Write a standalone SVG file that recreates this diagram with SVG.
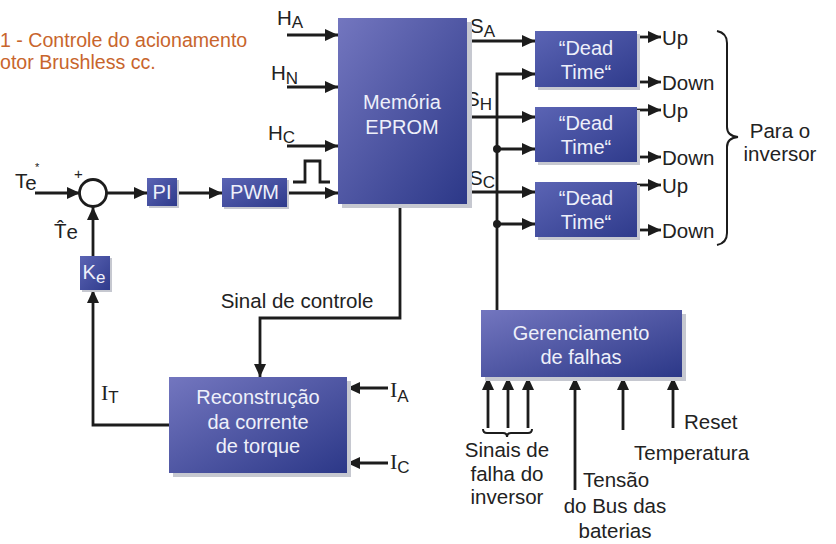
<svg xmlns="http://www.w3.org/2000/svg" width="836" height="544" viewBox="0 0 836 544">
<defs>
  <linearGradient id="bx" x1="0" y1="0" x2="1" y2="1">
    <stop offset="0" stop-color="#7376bf"/>
    <stop offset="1" stop-color="#2c3888"/>
  </linearGradient>
  <linearGradient id="bx2" x1="0" y1="0" x2="1" y2="1">
    <stop offset="0" stop-color="#5b64b4"/>
    <stop offset="1" stop-color="#2f3b8c"/>
  </linearGradient>
  <marker id="ah" markerWidth="14" markerHeight="12" refX="13" refY="6" orient="auto" markerUnits="userSpaceOnUse">
    <path d="M0,0 L13,6 L0,12 z" fill="#1c1c1c"/>
  </marker>
</defs>
<style>
  .box{fill:url(#bx)}
  .box2{fill:url(#bx2)}
  .sh{fill:#c6c8d0}
  .bt{font-family:"Liberation Sans",Arial,sans-serif;font-size:20px;fill:#eef0fa;text-anchor:middle}
  .lb{font-family:"Liberation Sans",Arial,sans-serif;font-size:20.5px;fill:#222}
  .sr{font-family:"Liberation Serif","Times New Roman",serif;font-size:22px;fill:#222}
  .sub{font-family:"Liberation Sans",Arial,sans-serif;font-size:17px}
  .c{fill:none;stroke:#1c1c1c;stroke-width:2.8}
  .a{marker-end:url(#ah)}
  .ttl{font-family:"Liberation Sans",Arial,sans-serif;font-size:19.6px;fill:#c8652c}
</style>
<rect width="836" height="544" fill="#ffffff"/>

<g id="title">
  <text class="ttl" x="0" y="47">1 - Controle do acionamento</text>
  <text class="ttl" x="0" y="69">otor Brushless cc.</text>
</g>

<g id="connectors">
  <path class="c a" d="M35,193 H80"/>
  <path class="c a" d="M107,193 H147"/>
  <path class="c a" d="M177,193 H222"/>
  <path class="c a" d="M287,193 H338"/>
  <path class="c a" d="M287,35 H338"/>
  <path class="c a" d="M287,87 H338"/>
  <path class="c a" d="M287,146 H338"/>
  <path class="c" d="M293,182 H305 V161 H320 V182 H330"/>
  <path class="c a" d="M93,256 V207"/>
  <path class="c a" d="M169,425 H93 V290"/>
  <path class="c a" d="M400,204 V318 H260 V377"/>
  <path class="c a" d="M388,388 H347"/>
  <path class="c a" d="M388,463 H347"/>
  <path class="c a" d="M467,41 H535"/>
  <path class="c a" d="M467,117 H535"/>
  <path class="c a" d="M467,192 H535"/>
  <path class="c a" d="M497,310 V74 H535"/>
  <path class="c a" d="M497,149 H535"/>
  <path class="c a" d="M497,224 H535"/>
  <circle cx="497" cy="149" r="4" fill="#1c1c1c"/>
  <circle cx="497" cy="224" r="4" fill="#1c1c1c"/>
  <path class="c a" d="M637,37 H661"/>
  <path class="c a" d="M637,82 H661"/>
  <path class="c a" d="M637,110 H661"/>
  <path class="c a" d="M637,157 H661"/>
  <path class="c a" d="M637,185 H661"/>
  <path class="c a" d="M637,230 H661"/>
  <path class="c a" d="M488,428 V377"/>
  <path class="c a" d="M508,428 V377"/>
  <path class="c a" d="M528,428 V377"/>
  <path class="c a" d="M575,490 V377"/>
  <path class="c a" d="M623,430 V377"/>
  <path class="c a" d="M673,428 V377"/>
  <path fill="none" stroke="#1c1c1c" stroke-width="2" d="M717,31 Q727,33 727,43 L727,127 Q727,136 738,137 Q727,138 727,147 L727,233 Q727,243 717,245"/>
  <path fill="none" stroke="#1c1c1c" stroke-width="2" d="M483,429 Q483,433 487,433 L503,433 Q507,433 507,437 Q507,433 511,433 L528,433 Q532,433 532,429"/>
</g>

<g id="labels">
  <text class="lb" x="15" y="188">T<tspan dy="2">e</tspan></text>
  <text class="lb" x="35" y="171" style="font-size:11px">*</text>
  <text class="lb" x="74" y="179" style="font-size:15px">+</text>
  <text class="lb" x="54" y="238">T̂<tspan dy="1">e</tspan></text>
  <text class="lb" x="277" y="25">H<tspan class="sub" dy="3">A</tspan></text>
  <text class="lb" x="271" y="80">H<tspan class="sub" dy="4">N</tspan></text>
  <text class="lb" x="268" y="140">H<tspan class="sub" dy="3">C</tspan></text>
  <text class="lb" x="470" y="33">S<tspan class="sub" dy="4">A</tspan></text>
  <text class="lb" x="466" y="106">S<tspan class="sub" dy="4">H</tspan></text>
  <text class="lb" x="469" y="185">S<tspan class="sub" dy="3">C</tspan></text>
  <text class="sr" x="101" y="400">I<tspan class="sub" dy="3">T</tspan></text>
  <text class="sr" x="390" y="397">I<tspan class="sub" dy="5">A</tspan></text>
  <text class="sr" x="390" y="469">I<tspan class="sub" dy="4">C</tspan></text>
  <text class="lb" x="297" y="308" text-anchor="middle">Sinal de controle</text>
  <text class="lb" x="662" y="45">Up</text>
  <text class="lb" x="662" y="90">Down</text>
  <text class="lb" x="662" y="118">Up</text>
  <text class="lb" x="662" y="165">Down</text>
  <text class="lb" x="662" y="193">Up</text>
  <text class="lb" x="662" y="238">Down</text>
  <text class="lb" x="780" y="138" text-anchor="middle">Para o</text>
  <text class="lb" x="780" y="161" text-anchor="middle">inversor</text>
  <text class="lb" x="507" y="457" text-anchor="middle">Sinais de</text>
  <text class="lb" x="507" y="481" text-anchor="middle">falha do</text>
  <text class="lb" x="507" y="504" text-anchor="middle">inversor</text>
  <text class="lb" x="583" y="487">Tensão</text>
  <text class="lb" x="615" y="513" text-anchor="middle">do Bus das</text>
  <text class="lb" x="615" y="538" text-anchor="middle">baterias</text>
  <text class="lb" x="684" y="429">Reset</text>
  <text class="lb" x="634" y="460">Temperatura</text>
</g>

<g id="sum">
  <circle cx="93" cy="193" r="13.5" fill="#ffffff" stroke="#1c1c1c" stroke-width="2.8"/>
</g>

<g id="pi">
  <rect class="sh" x="149" y="180" width="30" height="28"/>
  <rect class="box2" x="147" y="178" width="30" height="28"/>
  <text class="bt" x="162" y="199">PI</text>
</g>

<g id="pwm">
  <rect class="sh" x="224" y="180" width="65" height="29"/>
  <rect class="box2" x="222" y="178" width="65" height="29"/>
  <text class="bt" x="254.5" y="199">PWM</text>
</g>

<g id="ke">
  <rect class="sh" x="82" y="258" width="30" height="34"/>
  <rect class="box2" x="80" y="256" width="30" height="34"/>
  <text class="bt" x="94" y="279">K<tspan class="sub" dy="4">e</tspan></text>
</g>

<g id="eprom">
  <rect class="sh" x="342" y="22" width="130" height="186"/>
  <rect class="box" x="338" y="18" width="129" height="186"/>
  <text class="bt" x="402" y="109">Memória</text>
  <text class="bt" x="402" y="134">EPROM</text>
</g>

<g id="dt1">
  <rect class="sh" x="538" y="34" width="102" height="56"/>
  <rect class="box2" x="535" y="31" width="102" height="56"/>
  <text class="bt" x="586" y="55">“Dead</text>
  <text class="bt" x="586" y="79">Time“</text>
</g>
<g id="dt2">
  <rect class="sh" x="538" y="110" width="102" height="55"/>
  <rect class="box2" x="535" y="107" width="102" height="55"/>
  <text class="bt" x="586" y="130">“Dead</text>
  <text class="bt" x="586" y="154">Time“</text>
</g>
<g id="dt3">
  <rect class="sh" x="538" y="185" width="102" height="55"/>
  <rect class="box2" x="535" y="182" width="102" height="55"/>
  <text class="bt" x="586" y="205">“Dead</text>
  <text class="bt" x="586" y="229">Time“</text>
</g>

<g id="reconstrucao">
  <rect class="sh" x="173" y="381" width="178" height="96"/>
  <rect class="box" x="169" y="377" width="178" height="96"/>
  <text class="bt" x="258" y="404">Reconstrução</text>
  <text class="bt" x="258" y="429">da corrente</text>
  <text class="bt" x="258" y="453">de torque</text>
</g>

<g id="gerenciamento">
  <rect class="sh" x="485" y="314" width="201" height="67"/>
  <rect class="box" x="481" y="310" width="201" height="67"/>
  <text class="bt" x="581" y="340">Gerenciamento</text>
  <text class="bt" x="581" y="364">de falhas</text>
</g>
</svg>
